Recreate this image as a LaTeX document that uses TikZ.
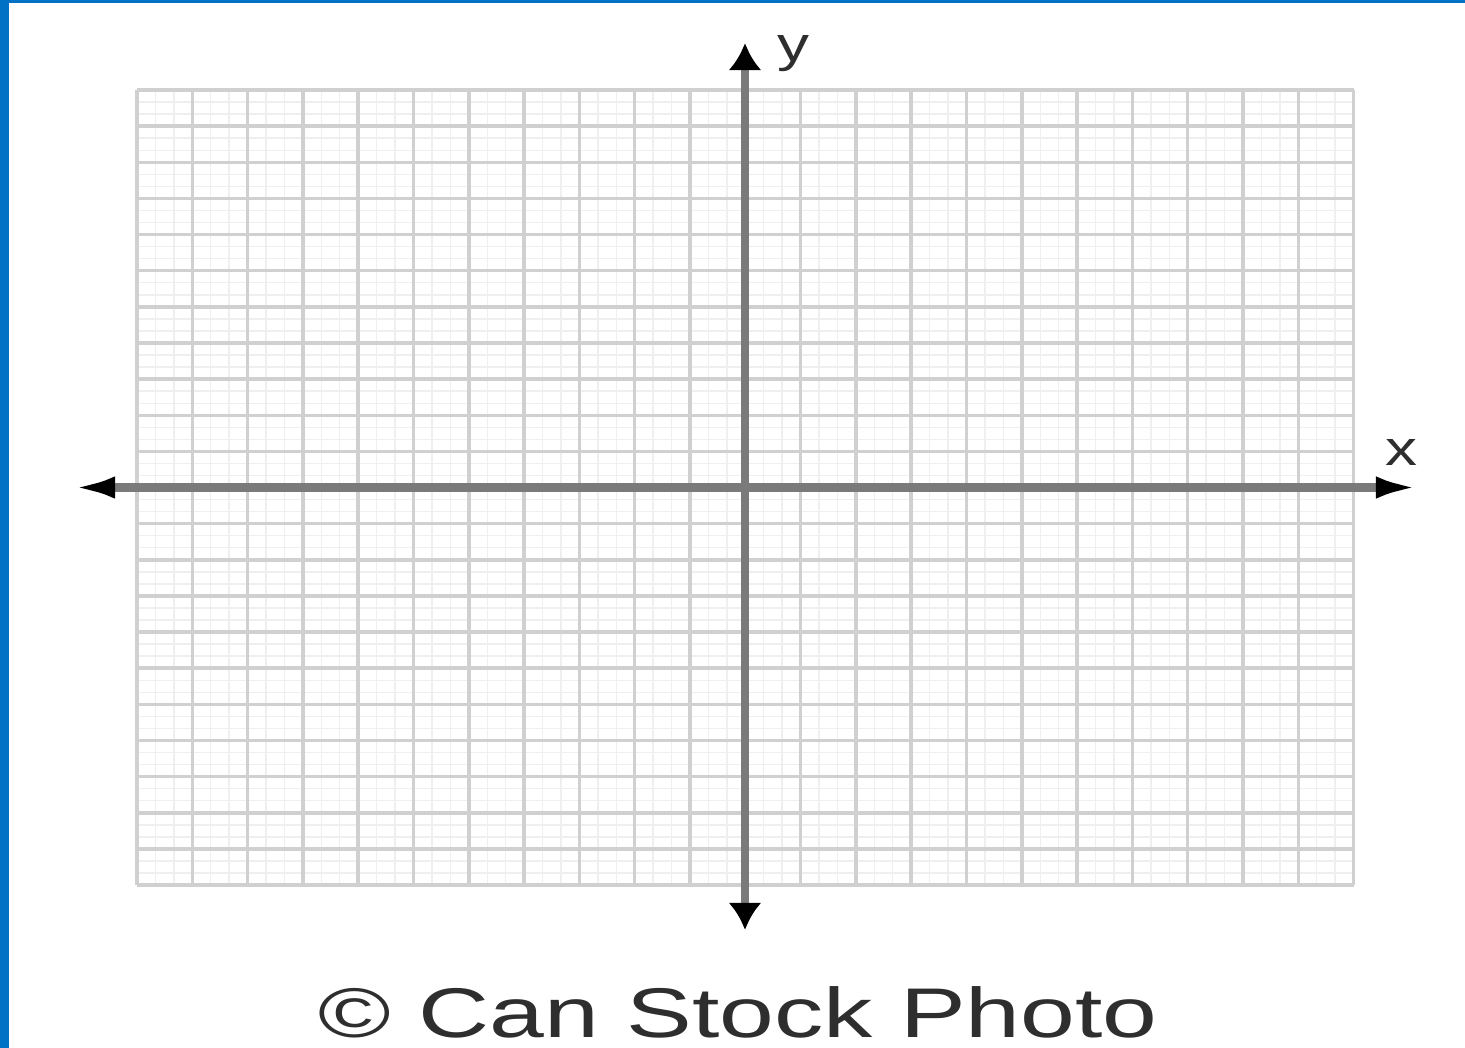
\documentclass[tikz,border=0pt]{standalone}
\usepackage{fontspec}
\setmainfont{Liberation Sans}
\usetikzlibrary{arrows.meta}
\definecolor{FrameBlue}{HTML}{0072C6}
\definecolor{AxisGray}{HTML}{7A7A7A}
\definecolor{MinorGray}{HTML}{EFEFEF}
\definecolor{MajorGray}{HTML}{D0D0D0}
\definecolor{InkGray}{HTML}{2E2E2E}
\tikzset{
  minorline/.style={draw=MinorGray, line width=0.4pt},
  majorline/.style={draw=MajorGray, line width=1pt},
  xaxisline/.style={{Latex[length=4.3mm, width=2.2mm, color=black]}-{Latex[length=4.3mm, width=2.2mm, color=black]}, draw=AxisGray, line width=2.3pt},
  yaxisline/.style={{Latex[length=2.7mm, width=3.3mm, color=black]}-{Latex[length=2.7mm, width=3.3mm, color=black]}, draw=AxisGray, line width=2.3pt},
  axislabel/.style={text=InkGray, inner sep=0pt, font=\fontsize{14}{14}\selectfont},
  creditlabel/.style={text=InkGray, inner sep=0pt, font=\fontsize{20}{20}\selectfont}
}

\begin{document}
\begin{tikzpicture}[x=0.01cm, y=-0.01cm]
\useasboundingbox (0,0) rectangle (1465,1048);
% frame
\fill[FrameBlue] (0,0) rectangle (9,1048);
\fill[FrameBlue] (0,0) rectangle (1465,3);
% grid
\foreach \i in {0,...,66}
  \draw[minorline] ({137+\i*55.3/3},90) -- ({137+\i*55.3/3},885.1);
\foreach \j in {0,...,66}
  \draw[minorline] (137,{90+\j*36.14/3}) -- (1353.6,{90+\j*36.14/3});
\foreach \i in {0,...,22}
  \draw[majorline] ({137+\i*55.3},90) -- ({137+\i*55.3},885.1);
\foreach \j in {0,...,22}
  \draw[majorline] (137,{90+\j*36.14}) -- (1353.6,{90+\j*36.14});
% axes
\coordinate (xleft) at (72,487.5);
\coordinate (xright) at (1419,487.5);
\coordinate (ytop) at (745,43);
\coordinate (ybottom) at (745,930);
\draw[xaxisline] (xleft) -- (xright);
\draw[yaxisline] (ybottom) -- (ytop);
\node[axislabel] (ylabel) at (794,54) {\scalebox{1.3}[1]{y}};
\node[axislabel] (xlabel) at (1402,452) {\scalebox{1.3}[1]{x}};
\node[creditlabel] (credit) at (738,1012) {\scalebox{1.4}[1]{© Can Stock Photo}};
\end{tikzpicture}
\end{document}
